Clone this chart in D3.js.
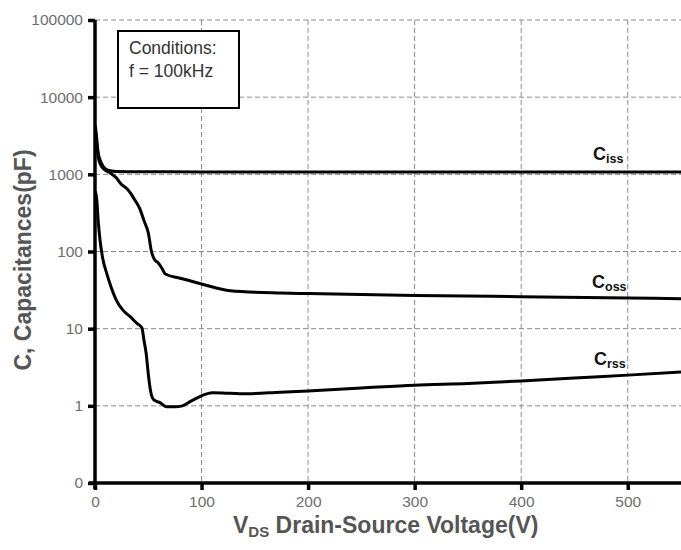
<!DOCTYPE html>
<html>
<head>
<meta charset="utf-8">
<script src="https://d3js.org/d3.v7.min.js"></script>
<style>
  body { margin: 0; background: #fff; }
  svg { display: block; font-family: "Liberation Sans", Arial, sans-serif; }
</style>
</head>
<body>
<svg id="chart" width="681" height="550"></svg>
<script>
// capacitance curves
const cissV = [0.3, 1.5, 3, 5, 8, 12, 20, 50, 100, 200, 300, 400, 500, 550];
const cissC = [4300, 3000, 1900, 1500, 1250, 1130, 1090, 1080, 1075, 1075, 1075, 1075, 1075, 1075];

const cossV = [0.3, 1.5, 3, 5, 9, 14, 20, 24, 30, 33, 38, 42, 46, 50, 53, 56, 59, 63, 66, 80, 100, 127, 174, 200, 300, 400, 500, 550];
const cossC = [4000, 2600, 1700, 1350, 1150, 1050, 900, 760, 650, 580, 450, 360, 250, 175, 100, 78, 72, 60, 51, 45, 38, 31, 29, 28.5, 27, 26, 25, 24.5];

const crssV = [0.3, 1.6, 3, 4.7, 7, 11, 15, 20, 26, 33, 40, 44, 46, 48, 50, 52, 55, 61, 67, 75, 82, 90, 100, 110, 120, 136, 174, 200, 250, 300, 350, 400, 450, 500, 550];
const crssC = [600, 480, 250, 141, 85, 52, 35, 23.5, 17.5, 14.3, 11.5, 10.3, 7, 4.8, 2.6, 1.6, 1.2, 1.1, 0.975, 0.97, 1.0, 1.15, 1.35, 1.48, 1.47, 1.43, 1.5, 1.56, 1.7, 1.85, 1.95, 2.1, 2.3, 2.5, 2.75];

const xTicks = [0, 100, 200, 300, 400, 500];
const yTicks = [0.1, 1, 10, 100, 1000, 10000, 100000];
const yTickLabels = ["0", "1", "10", "100", "1000", "10000", "100000"];

const seriesNames = ["iss", "oss", "rss"];

const svg = d3.select("#chart");
const plotLeft = 95, plotRight = 681, plotTop = 20, plotBottom = 483;

let xScale = d3.scaleLinear().domain([0, 550]).range([plotLeft, plotRight]);
let yScale = d3.scaleLog().domain([0.1, 100000]).range([plotBottom, plotTop]);

// grid
svg.append("g").selectAll("line")
  .data(xTicks.slice(1))
  .join("line")
  .attr("x1", d => xScale(d)).attr("x2", d => xScale(d))
  .attr("y1", plotTop).attr("y2", plotBottom)
  .attr("stroke", "#8a8a8a").attr("stroke-width", 1)
  .attr("stroke-dasharray", "5,3");

svg.append("g").selectAll("line")
  .data(yTicks.slice(1))
  .join("line")
  .attr("x1", plotLeft).attr("x2", plotRight)
  .attr("y1", d => yScale(d)).attr("y2", d => yScale(d))
  .attr("stroke", "#8a8a8a").attr("stroke-width", 1)
  .attr("stroke-dasharray", "5,3");

// conditions box
svg.append("rect")
  .attr("x", 118).attr("y", 31).attr("width", 121).attr("height", 77)
  .attr("fill", "#fff").attr("stroke", "#000").attr("stroke-width", 2);
svg.append("text").attr("x", 129).attr("y", 54)
  .attr("font-size", 17.5).attr("fill", "#333").text("Conditions:");
svg.append("text").attr("x", 129).attr("y", 77)
  .attr("font-size", 17.5).attr("fill", "#333").text("f = 100kHz");

// curves
svg.append("clipPath").attr("id", "plot")
  .append("rect").attr("x", plotLeft).attr("y", plotTop)
  .attr("width", plotRight - plotLeft).attr("height", plotBottom - plotTop);

let line = d3.line()
  .x(d => xScale(d[0]))
  .y(d => yScale(d[1]))
  .curve(d3.curveMonotoneX);

const curves = [
  d3.zip(cissV, cissC),
  d3.zip(cossV, cossC),
  d3.zip(crssV, crssC)
];

svg.append("g").attr("clip-path", "url(#plot)")
  .selectAll("path")
  .data(curves)
  .join("path")
  .attr("d", line)
  .attr("fill", "none")
  .attr("stroke", "#000")
  .attr("stroke-width", 3)
  .attr("stroke-linejoin", "round");

// axes
let xAxis = d3.axisBottom(xScale).tickValues(xTicks).tickSize(7).tickPadding(6);
let gx = svg.append("g").attr("transform", `translate(0,${plotBottom})`).call(xAxis);
gx.select(".domain").attr("stroke-width", 3.5).attr("d", `M${plotLeft - 6},0H${plotRight}`);
gx.selectAll(".tick line").attr("stroke-width", 3.5);
gx.selectAll(".tick text").attr("font-size", 15.5).attr("fill", "#6e6e6e")
  .attr("font-family", "Liberation Sans, Arial, sans-serif");

let yAxis = d3.axisLeft(yScale).tickValues(yTicks)
  .tickFormat((d, i) => yTickLabels[i]).tickSize(7).tickPadding(5);
let gy = svg.append("g").attr("transform", `translate(${plotLeft},0)`).call(yAxis);
gy.select(".domain").attr("stroke-width", 3.5).attr("d", `M0,${plotTop}V${plotBottom + 6}`);
gy.selectAll(".tick line").attr("stroke-width", 3.5);
gy.selectAll(".tick text").attr("font-size", 15.5).attr("fill", "#6e6e6e")
  .attr("font-family", "Liberation Sans, Arial, sans-serif");

// series labels
const labelPos = [[593, 160], [592, 288], [594, 365]];
seriesNames.forEach((s, i) => {
  let t = svg.append("text")
    .attr("x", labelPos[i][0]).attr("y", labelPos[i][1])
    .attr("font-weight", "bold").attr("fill", "#111");
  t.append("tspan").attr("font-size", 18).text("C");
  t.append("tspan").attr("font-size", 12.5).attr("dy", 3).text(s);
});

// axis titles
let xt = svg.append("text")
  .attr("x", 233).attr("y", 533)
  .attr("font-size", 23).attr("font-weight", "bold").attr("fill", "#555");
xt.append("tspan").text("V");
xt.append("tspan").attr("font-size", 15).attr("dy", 4).text("DS");
xt.append("tspan").attr("dy", -4).text(" Drain-Source Voltage(V)");

svg.append("text")
  .attr("transform", "translate(31,260) rotate(-90)")
  .attr("text-anchor", "middle")
  .attr("font-size", 23).attr("font-weight", "bold").attr("fill", "#555")
  .text("C, Capacitances(pF)");
</script>
</body>
</html>
